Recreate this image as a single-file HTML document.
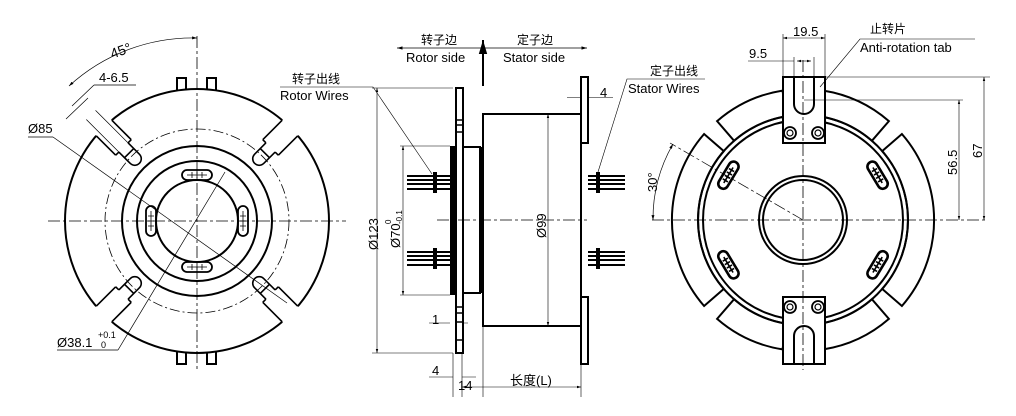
<!DOCTYPE html>
<html><head><meta charset="utf-8"><style>
html,body{margin:0;padding:0;background:#fff;}
svg{display:block;}
text{font-family:"Liberation Sans","Noto Sans CJK SC",sans-serif;fill:#000;}
</style></head><body>
<svg width="1016" height="416" viewBox="0 0 1016 416" xmlns="http://www.w3.org/2000/svg">
<defs>
<marker id="ar" viewBox="0 0 10 10" refX="10" refY="5" markerWidth="7" markerHeight="7" orient="auto-start-reverse"><path d="M0,2 L10,5 L0,8 Z" fill="#000"/></marker>
</defs>
<g fill="none" stroke="#000">
<!-- ================= LEFT VIEW ================= -->
<circle cx="197" cy="221" r="132" stroke-width="2"/>
<circle cx="197" cy="221" r="92" stroke-width="0.8" stroke-dasharray="10,3,2,3"/>
<circle cx="197" cy="221" r="75" stroke-width="2"/>
<circle cx="197" cy="221" r="60" stroke-width="2"/>
<circle cx="197" cy="221" r="41" stroke-width="2"/>
<g id="gp" transform="translate(197,221) rotate(-135)">
<rect x="104" y="-11" width="40" height="22" fill="#fff" stroke="none"/>
<path d="M104,-11 L131.5,-11 M104,11 L131.5,11 M104,-11 L104,-6.5 M104,11 L104,6.5 M104,-6.5 L88,-6.5 A6.5,6.5 0 0 0 88,6.5 L104,6.5 M96,-6.5 L96,6.5" stroke-width="1.6"/>
<path d="M104,-6.5 L150,-6.5 M104,6.5 L150,6.5" stroke-width="0.7"/>
</g>
<g transform="translate(197,221) rotate(-45)">
<rect x="104" y="-11" width="40" height="22" fill="#fff" stroke="none"/>
<path d="M104,-11 L131.5,-11 M104,11 L131.5,11 M104,-11 L104,-6.5 M104,11 L104,6.5 M104,-6.5 L88,-6.5 A6.5,6.5 0 0 0 88,6.5 L104,6.5 M96,-6.5 L96,6.5" stroke-width="1.6"/>
</g>
<g transform="translate(197,221) rotate(45)">
<rect x="104" y="-11" width="40" height="22" fill="#fff" stroke="none"/>
<path d="M104,-11 L131.5,-11 M104,11 L131.5,11 M104,-11 L104,-6.5 M104,11 L104,6.5 M104,-6.5 L88,-6.5 A6.5,6.5 0 0 0 88,6.5 L104,6.5 M96,-6.5 L96,6.5" stroke-width="1.6"/>
</g>
<g transform="translate(197,221) rotate(135)">
<rect x="104" y="-11" width="40" height="22" fill="#fff" stroke="none"/>
<path d="M104,-11 L131.5,-11 M104,11 L131.5,11 M104,-11 L104,-6.5 M104,11 L104,6.5 M104,-6.5 L88,-6.5 A6.5,6.5 0 0 0 88,6.5 L104,6.5 M96,-6.5 L96,6.5" stroke-width="1.6"/>
</g>
<path d="M177,90 L177,78 L186,78 L186,90 M207,90 L207,78 L216,78 L216,90" stroke-width="2"/>
<path d="M177,352 L177,364 L186,364 L186,352 M207,352 L207,364 L216,364 L216,352" stroke-width="2"/>
<rect x="182" y="170" width="30" height="10" rx="5" stroke-width="1.8"/>
<rect x="182" y="262" width="30" height="10" rx="5" stroke-width="1.8"/>
<rect x="146" y="206" width="10" height="30" rx="5" stroke-width="1.8"/>
<rect x="238" y="206" width="10" height="30" rx="5" stroke-width="1.8"/>
<path d="M187,175 H207 M187,267 H207 M151,211 V231 M243,211 V231 M192,172 V178 M197,172 V178 M202,172 V178 M192,264 V270 M197,264 V270 M202,264 V270 M148,216 H154 M148,221 H154 M148,226 H154 M240,216 H246 M240,221 H246 M240,226 H246" stroke-width="0.8"/>
<path d="M48,221 H346 M197,36 V372" stroke-width="0.8" stroke-dasharray="12,3,3,3"/>
<path d="M53,137 L287,303" stroke-width="0.7"/>
<path d="M28,137 H53" stroke-width="0.7"/>
<path d="M118,350 L225,172 M57,350 H118" stroke-width="0.7"/>
<path d="M94,85 H136 M94,85 L72,106 M88,98 L66,119" stroke-width="0.7"/>
<path d="M69,86 A183,183 0 0 1 197,38" stroke-width="0.7" marker-start="url(#ar)" marker-end="url(#ar)"/>
<!-- ================= MIDDLE VIEW ================= -->
<rect x="456" y="88" width="7" height="265" stroke-width="2"/>
<rect x="450" y="146" width="6" height="149" fill="#000" stroke="none"/>
<path d="M456,120 H463 M456,125 H463 M456,132 H463 M456,307 H463 M456,313 H463 M456,322 H463 M456,340 H463" stroke-width="1.5"/>
<rect x="463" y="147" width="17" height="146" stroke-width="2"/>
<rect x="479" y="147" width="5" height="146" fill="#000" stroke="none"/>
<rect x="483" y="114" width="98" height="212" stroke-width="2"/>
<rect x="581" y="77" width="7" height="66" stroke-width="2"/>
<rect x="581" y="297" width="7" height="67" stroke-width="2"/>
<path d="M407,176 H450 M407,180 H450 M407,184 H450 M407,189 H450 M407,252 H450 M407,256 H450 M407,260 H450 M407,265 H450 M588,176 H625 M588,180 H625 M588,184 H625 M588,189 H625 M588,252 H625 M588,256 H625 M588,260 H625 M588,265 H625" stroke-width="2"/>
<path d="M435,172 V193 M435,248 V269 M598,172 V193 M598,248 V269" stroke-width="4"/>
<path d="M437,220 H587" stroke-width="0.8" stroke-dasharray="12,3,3,3"/>
<path d="M483,86 V40" stroke-width="2" marker-end="url(#ar)"/>
<path d="M397,48 H587" stroke-width="0.8" marker-start="url(#ar)" marker-end="url(#ar)"/>
<path d="M372,88 H453 M372,353 H453" stroke-width="0.6"/>
<path d="M377,88 V353" stroke-width="0.6" marker-start="url(#ar)" marker-end="url(#ar)"/>
<path d="M400,146 H450 M400,295 H450" stroke-width="0.6"/>
<path d="M403,146 V295" stroke-width="0.6" marker-start="url(#ar)" marker-end="url(#ar)"/>
<path d="M548,114 V326" stroke-width="0.6" marker-start="url(#ar)" marker-end="url(#ar)"/>
<path d="M567,97.5 H581 M588,97.5 H613" stroke-width="0.6"/>
<path d="M429,323 H450 M463,323 H468" stroke-width="0.6"/>
<path d="M429,377 H453 M462,377 H476" stroke-width="0.6"/>
<path d="M453,353 V397 M462,353 V397 M483,326 V397 M581,364 V397" stroke-width="0.6"/>
<path d="M462,387 H483 M483,387 H581" stroke-width="0.6" marker-start="url(#ar)" marker-end="url(#ar)"/>
<path d="M280,87 H373 L432,174" stroke-width="0.6"/>
<path d="M705,79 H627 L598,172" stroke-width="0.6"/>
<!-- ================= RIGHT VIEW ================= -->
<path d="M782.5 90.6 A131 131 0 0 0 717.1 121.1 L734.1 140.8 A105 105 0 0 1 786.6 116.3 Z" stroke-width="2"/>
<path d="M704.1 134 A131 131 0 0 0 704.1 306 L723.8 288.9 A105 105 0 0 1 723.8 151.1 Z" stroke-width="2"/>
<path d="M782.5 349.4 A131 131 0 0 1 717.1 318.9 L734.1 299.2 A105 105 0 0 0 786.6 323.7 Z" stroke-width="2"/>
<path d="M823.5 90.6 A131 131 0 0 1 888.9 121.1 L871.9 140.8 A105 105 0 0 0 819.4 116.3 Z" stroke-width="2"/>
<path d="M901.9 134 A131 131 0 0 1 901.9 306 L882.2 288.9 A105 105 0 0 0 882.2 151.1 Z" stroke-width="2"/>
<path d="M823.5 349.4 A131 131 0 0 0 888.9 318.9 L871.9 299.2 A105 105 0 0 1 819.4 323.7 Z" stroke-width="2"/>
<circle cx="803" cy="220" r="105" stroke-width="2"/>
<circle cx="803" cy="220" r="100" stroke-width="2"/>
<circle cx="803" cy="220" r="44" stroke-width="2"/>
<circle cx="803" cy="220" r="40" stroke-width="2"/>
<rect x="783" y="77" width="42" height="66" fill="#fff" stroke-width="2"/>
<path d="M794,77 V104 A10,10 0 0 0 814,104 V77" stroke-width="2"/>
<circle cx="790" cy="133" r="6" stroke-width="1.8"/><circle cx="790" cy="133" r="3" stroke-width="1.2"/>
<circle cx="818" cy="133" r="6" stroke-width="1.8"/><circle cx="818" cy="133" r="3" stroke-width="1.2"/>
<rect x="783" y="297" width="42" height="67" fill="#fff" stroke-width="2"/>
<path d="M794,364 V336 A10,10 0 0 1 814,336 V364" stroke-width="2"/>
<circle cx="790" cy="307" r="6" stroke-width="1.8"/><circle cx="790" cy="307" r="3" stroke-width="1.2"/>
<circle cx="818" cy="307" r="6" stroke-width="1.8"/><circle cx="818" cy="307" r="3" stroke-width="1.2"/>
<g transform="translate(803,220) rotate(-149)"><rect x="82" y="-15" width="10" height="30" rx="5" stroke-width="2.6"/><path d="M87,-9 V9 M84,-6 H90 M84,-2 H90 M84,2 H90 M84,6 H90" stroke-width="1.6"/></g>
<g transform="translate(803,220) rotate(-31)"><rect x="82" y="-15" width="10" height="30" rx="5" stroke-width="2.6"/><path d="M87,-9 V9 M84,-6 H90 M84,-2 H90 M84,2 H90 M84,6 H90" stroke-width="1.6"/></g>
<g transform="translate(803,220) rotate(149)"><rect x="82" y="-15" width="10" height="30" rx="5" stroke-width="2.6"/><path d="M87,-9 V9 M84,-6 H90 M84,-2 H90 M84,2 H90 M84,6 H90" stroke-width="1.6"/></g>
<g transform="translate(803,220) rotate(31)"><rect x="82" y="-15" width="10" height="30" rx="5" stroke-width="2.6"/><path d="M87,-9 V9 M84,-6 H90 M84,-2 H90 M84,2 H90 M84,6 H90" stroke-width="1.6"/></g>
<path d="M652,220 H988 M803,60 V370" stroke-width="0.8" stroke-dasharray="12,3,3,3"/>
<path d="M803,220 L670,143" stroke-width="0.7" stroke-dasharray="12,3,3,3"/>
<path d="M673,144 A150,150 0 0 0 653,220" stroke-width="0.7" marker-start="url(#ar)" marker-end="url(#ar)"/>
<path d="M783,77 V34 M825,77 V34" stroke-width="0.6"/>
<path d="M783,38 H825" stroke-width="0.6" marker-start="url(#ar)" marker-end="url(#ar)"/>
<path d="M794,77 V57 M814,77 V57 M748,61 H794" stroke-width="0.6"/>
<path d="M797,61 H811" stroke-width="0.6" marker-start="url(#ar)" marker-end="url(#ar)"/>
<path d="M804,100 H963 M825,77 H990" stroke-width="0.6"/>
<path d="M959,100 V220" stroke-width="0.6" marker-start="url(#ar)" marker-end="url(#ar)"/>
<path d="M984,77 V220" stroke-width="0.6" marker-start="url(#ar)" marker-end="url(#ar)"/>
<path d="M975,39 H860 L820,87" stroke-width="0.6"/>
</g>
<g font-size="13">
<text x="110" y="55" transform="rotate(-20 122 50)" font-size="14">45°</text>
<text x="99" y="82">4-6.5</text>
<text x="28" y="133">Ø85</text>
<text x="57" y="347">Ø38.1</text>
<text x="98" y="338" font-size="9">+0.1</text>
<text x="101" y="348" font-size="9">0</text>
<text x="292" y="83" font-size="12">转子出线</text>
<text x="280" y="100">Rotor Wires</text>
<text x="421" y="44" font-size="12">转子边</text>
<text x="406" y="62">Rotor side</text>
<text x="517" y="44" font-size="12">定子边</text>
<text x="503" y="62">Stator  side</text>
<text x="650" y="75" font-size="12">定子出线</text>
<text x="628" y="93">Stator Wires</text>
<text x="600" y="97">4</text>
<text transform="translate(378,250) rotate(-90)">Ø123</text>
<text transform="translate(400,248) rotate(-90)">Ø70</text>
<text transform="translate(391,224) rotate(-90)" font-size="8">0</text>
<text transform="translate(402,224) rotate(-90)" font-size="8">-0.1</text>
<text transform="translate(546,238) rotate(-90)">Ø99</text>
<text x="432" y="324">1</text>
<text x="432" y="375">4</text>
<text x="458" y="390">14</text>
<text x="510" y="385">长度(L)</text>
<text x="870" y="33" font-size="12">止转片</text>
<text x="860" y="52">Anti-rotation tab</text>
<text x="793" y="36">19.5</text>
<text x="749" y="58">9.5</text>
<text transform="translate(957,175) rotate(-90)">56.5</text>
<text transform="translate(982,158) rotate(-90)">67</text>
<text transform="translate(657,192) rotate(-90)">30°</text>
</g>
</svg>
</body></html>
